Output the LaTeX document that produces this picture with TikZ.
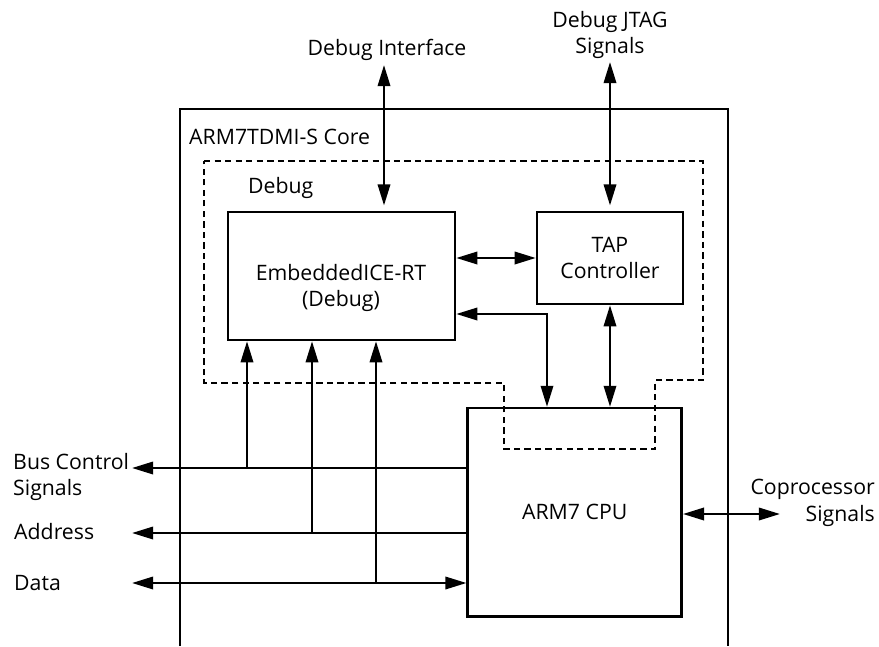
\documentclass[tikz,border=0pt]{standalone}
\usepackage{fontspec}
\setmainfont{Open Sans}
\usetikzlibrary{positioning, arrows.meta}

\begin{document}
\begin{tikzpicture}[x=0.02cm, y=-0.02cm, line width=1.4pt,
  font=\fontsize{12.1}{15.2}\selectfont,
  block/.style={draw, align=center, inner sep=0pt},
  sig/.style={inner sep=0pt},
  bus/.style={-{Triangle[length=12pt,width=7pt]}},
  bibus/.style={{Triangle[length=12pt,width=7pt]}-{Triangle[length=12pt,width=7pt]}},
  region/.style={dash pattern=on 3.6pt off 2.4pt, line width=1.2pt}]
  \useasboundingbox (0,0) rectangle (879,646);

  % core outline (open at the bottom) and debug region
  \draw (180,646) -- (180,109) -- (728,109) -- (728,646);
  \draw[region] (204,161) -- (703,161) -- (703,380) -- (655,380) -- (655,449)
    -- (504,449) -- (504,383) -- (204,383) -- cycle;
  \node[sig, anchor=west] (core)  at (188,137) {ARM7TDMI-S Core};
  \node[sig, anchor=west] (debug) at (247,188) {Debug};

  % blocks
  \node[block, minimum width=4.54cm, minimum height=2.56cm] (ice) at (341.5,276) {};
  \node[sig, align=center] (icetext) at (341,288) {EmbeddedICE-RT\\(Debug)};
  \node[block, minimum width=2.92cm, minimum height=1.84cm] (tap) at (610,258) {TAP\\Controller};
  \node[block, minimum width=4.28cm, minimum height=4.17cm] (cpu) at (574.7,512.3) {ARM7 CPU};

  % outside signals
  \node[sig] (dbgif) at (387,50) {Debug Interface};
  \node[sig, align=center] (jtag) at (610,35) {Debug JTAG\\Signals};
  \node[sig, align=left, anchor=west] (busctl) at (12,477) {Bus Control\\Signals};
  \node[sig, anchor=west] (addr) at (13,532) {Address};
  \node[sig, anchor=west] (data) at (13,583) {Data};
  \node[sig, align=right, anchor=east] (copro) at (876,503) {Coprocessor\\Signals};
  \coordinate (dbgtop)  at (384,65);
  \coordinate (jtagtop) at (610,62);
  \coordinate (busend)  at (132,468);
  \coordinate (addrend) at (132,533);
  \coordinate (dataend) at (132,583);
  \coordinate (copend)  at (780,514);

  % debug connections
  \draw[bibus, shorten >=3pt] (dbgtop) -- (dbgtop |- ice.north);
  \draw[bibus, shorten >=3pt] (jtagtop) -- (jtagtop |- tap.north);
  \draw[bibus] (ice.east |- tap.west) -- (tap.west);
  \draw[bibus] (ice.east |- 0,314) -| (547,0 |- cpu.north);
  \draw[bibus] (tap.south) -- (tap.south |- cpu.north);

  % buses to the left, taps up into EmbeddedICE
  \draw[bus] (cpu.west |- busend) -- (busend);
  \draw[bus] (cpu.west |- addrend) -- (addrend);
  \draw[bibus] (dataend) -- (cpu.west |- dataend);
  \draw[bus] (247,0 |- busend) -- (247,0 |- ice.south);
  \draw[bus] (312,0 |- addrend) -- (312,0 |- ice.south);
  \draw[bus] (376,0 |- dataend) -- (376,0 |- ice.south);

  % coprocessor
  \draw[bibus] (cpu.east |- copend) -- (copend);
\end{tikzpicture}
\end{document}
